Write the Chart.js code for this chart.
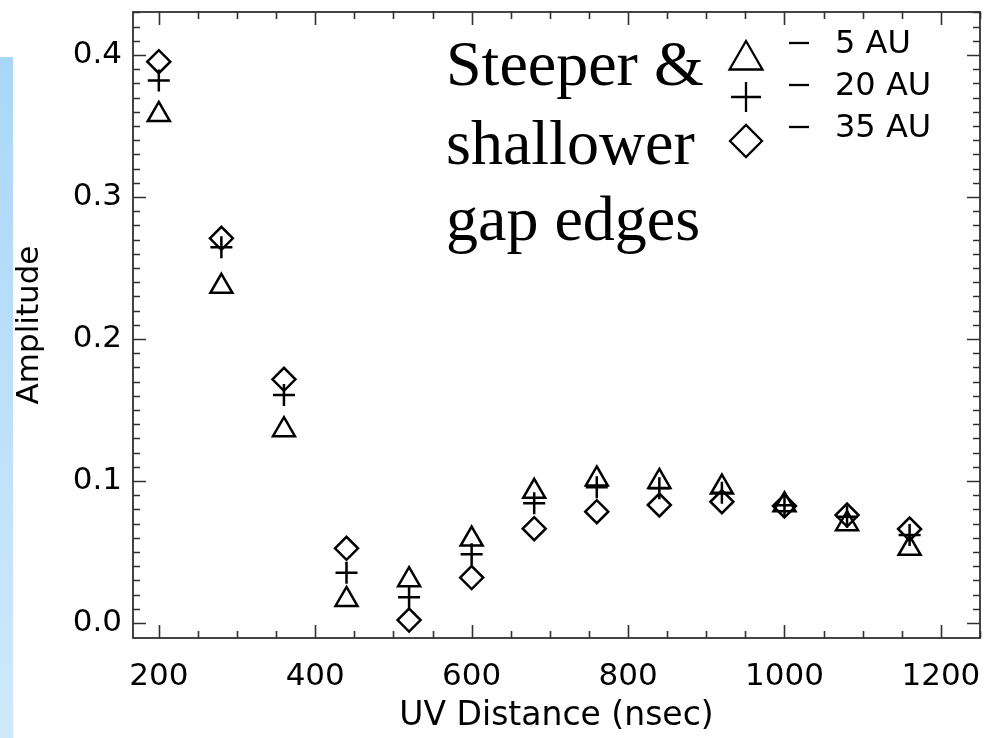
<!DOCTYPE html>
<html><head><meta charset="utf-8">
<script src="https://cdn.jsdelivr.net/npm/chart.js@4/dist/chart.umd.min.js"></script>
<style>
html,body{margin:0;padding:0;background:#fff;overflow:hidden;}
#wrap{position:relative;width:987px;height:738px;}
#side{position:absolute;left:0;top:57px;width:13px;height:681px;background:linear-gradient(to bottom,#a9d7f8,#cfe9fb);}
canvas{position:absolute;left:0;top:0;}
</style></head>
<body>
<div id="wrap"><div id="side"></div><canvas id="c" width="987" height="738"></canvas></div>
<script>
// ---- data ----
const uvDistance = [200, 280, 360, 440, 520, 600, 680, 760, 840, 920, 1000, 1080, 1160];
const amp5AU  = [0.358, 0.237, 0.136, 0.0165, 0.0304, 0.0590, 0.0926, 0.1013, 0.0996, 0.0956, 0.0832, 0.0698, 0.0525];
const amp20AU = [0.382, 0.2646, 0.1606, 0.0354, 0.0181, 0.0484, 0.0843, 0.0956, 0.0949, 0.0918, 0.0830, 0.0749, 0.0620];
const amp35AU = [0.3953, 0.2709, 0.1716, 0.0526, 0.0021, 0.0320, 0.0664, 0.0784, 0.0831, 0.0854, 0.0824, 0.0760, 0.0662];
const xTicks = [200, 400, 600, 800, 1000, 1200];
const yTicks = [0.0, 0.1, 0.2, 0.3, 0.4];
const seriesLabels = ['5 AU', '20 AU', '35 AU'];
const noteLines = ['Steeper &', 'shallower', 'gap edges'];
const xTitle = 'UV Distance (nsec)';
const yTitle = 'Amplitude';

const X_MIN = 167, X_MAX = 1250, Y_MIN = -0.01056, Y_MAX = 0.4303;
const INK = '#000';
const FRAME = '#303030';
const SANS = "'DejaVu Sans', sans-serif";

function pts(ys){ return uvDistance.map((x,i)=>({x:x, y:ys[i]})); }

const frameTicks = {
  id:'frameTicks',
  afterDatasetsDraw(chart){
    const {ctx, chartArea:a, scales:{x, y}} = chart;
    ctx.save();
    ctx.strokeStyle = FRAME; ctx.lineWidth = 1.8;
    ctx.strokeRect(a.left, a.top, a.right-a.left, a.bottom-a.top);
    const MAJ = 13, MIN = 7;
    ctx.lineWidth = 1.6;
    ctx.beginPath();
    for (let v = 200; v <= X_MAX + 1e-6; v += 50) {
      const px = Math.round(x.getPixelForValue(v)) + 0.5;
      const len = xTicks.includes(v) ? MAJ : MIN;
      ctx.moveTo(px, a.bottom); ctx.lineTo(px, a.bottom - len);
      ctx.moveTo(px, a.top); ctx.lineTo(px, a.top + len);
    }
    for (let k = 0; k <= 43; k++) {
      const v = k/100;
      if (v > Y_MAX) break;
      const py = Math.round(y.getPixelForValue(v)) + 0.5;
      const len = (k % 10 === 0) ? MAJ : MIN;
      ctx.moveTo(a.left, py); ctx.lineTo(a.left + len, py);
      ctx.moveTo(a.right, py); ctx.lineTo(a.right - len, py);
    }
    ctx.stroke();
    ctx.restore();
  }
};

const annot = {
  id:'annot',
  afterDraw(chart){
    const ctx = chart.ctx;
    ctx.save();
    ctx.fillStyle = INK;
    ctx.font = "64px 'Liberation Serif', 'Times New Roman', serif";
    ctx.textAlign = 'left'; ctx.textBaseline = 'alphabetic';
    const base = [85, 164, 240];
    noteLines.forEach((t,i)=>ctx.fillText(t, 446, base[i]));
    // legend
    ctx.strokeStyle = INK; ctx.lineWidth = 2.3;
    const cx = 746;
    const r = 19, ty = 60;
    ctx.beginPath();
    ctx.moveTo(cx, ty - r);
    ctx.lineTo(cx + r*Math.sin(2*Math.PI/3), ty - r*Math.cos(2*Math.PI/3));
    ctx.lineTo(cx + r*Math.sin(4*Math.PI/3), ty - r*Math.cos(4*Math.PI/3));
    ctx.closePath(); ctx.stroke();
    const py = 97, ph = 15;
    ctx.beginPath();
    ctx.moveTo(cx-ph, py); ctx.lineTo(cx+ph, py);
    ctx.moveTo(cx, py-ph); ctx.lineTo(cx, py+ph);
    ctx.stroke();
    const dy = 141, dh = 16;
    ctx.beginPath();
    ctx.moveTo(cx-dh, dy); ctx.lineTo(cx, dy-dh); ctx.lineTo(cx+dh, dy); ctx.lineTo(cx, dy+dh);
    ctx.closePath(); ctx.stroke();
    const ly = [45, 87, 129];
    ctx.font = "32px " + SANS;
    ctx.textBaseline = 'middle';
    ly.forEach((yy,i)=>{
      ctx.beginPath(); ctx.moveTo(789, yy-2); ctx.lineTo(809, yy-2); ctx.stroke();
      ctx.fillText(seriesLabels[i], 835, yy);
    });
    ctx.restore();
  }
};

const common = {showLine:false, borderColor:INK, backgroundColor:'rgba(0,0,0,0)', pointBorderWidth:2.5, pointHoverRadius:0};

new Chart(document.getElementById('c'), {
  type:'scatter',
  data:{ datasets:[
    Object.assign({label:seriesLabels[0], data:pts(amp5AU), pointStyle:'triangle', pointRadius:12.7}, common),
    Object.assign({label:seriesLabels[1], data:pts(amp20AU), pointStyle:'cross', pointRadius:11}, common),
    Object.assign({label:seriesLabels[2], data:pts(amp35AU), pointStyle:'rectRot', pointRadius:11.5}, common)
  ]},
  options:{
    responsive:false, animation:false, devicePixelRatio:1,
    layout:{autoPadding:false, padding:{top:12, right:7, left:0, bottom:0}},
    plugins:{legend:{display:false}, tooltip:{enabled:false}},
    scales:{
      x:{type:'linear', min:X_MIN, max:X_MAX,
         afterBuildTicks:(s)=>{ s.ticks = xTicks.map(v=>({value:v})); },
         afterFit:(s)=>{ s.height = 100; s.paddingLeft = 0; s.paddingRight = 0; s.paddingTop = 0; s.paddingBottom = 0; },
         grid:{display:false, drawTicks:false, tickLength:0}, border:{display:false},
         ticks:{color:INK, font:{family:SANS, size:31}, padding:20, maxRotation:0, autoSkip:false, callback:(v)=>String(v)},
         title:{display:true, text:xTitle, color:INK, font:{family:SANS, size:33}, padding:{top:0, bottom:2}}
      },
      y:{type:'linear', min:Y_MIN, max:Y_MAX,
         afterBuildTicks:(s)=>{ s.ticks = yTicks.map(v=>({value:v})); },
         afterFit:(s)=>{ s.width = 133; s.paddingLeft = 0; s.paddingRight = 0; s.paddingTop = 0; s.paddingBottom = 0; },
         grid:{display:false, drawTicks:false, tickLength:0}, border:{display:false},
         ticks:{color:INK, font:{family:SANS, size:31}, padding:11, autoSkip:false, callback:(v)=>Number(v).toFixed(1)},
         title:{display:true, text:yTitle, color:INK, font:{family:SANS, size:31}, padding:{top:11, bottom:0}}
      }
    }
  },
  plugins:[frameTicks, annot]
});
</script>
</body></html>
